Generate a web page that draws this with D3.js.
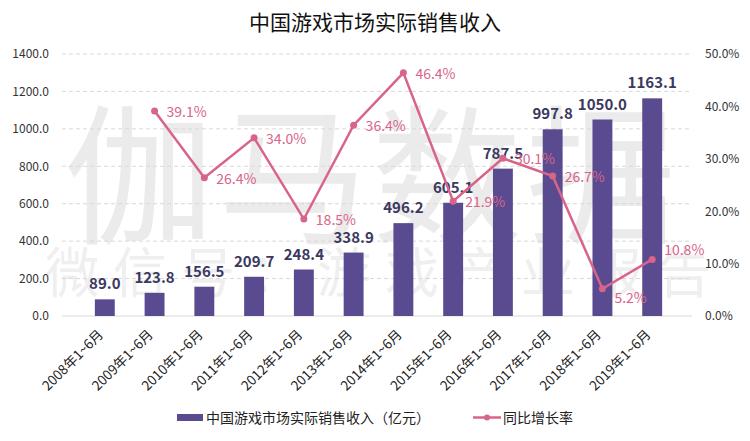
<!DOCTYPE html>
<html><head><meta charset="utf-8">
<script src="https://cdn.jsdelivr.net/npm/d3@7"></script>
<style>body{margin:0;background:#fff}svg{display:block}text{font-family:"Noto Sans CJK SC","Noto Sans",sans-serif}</style>
</head><body><svg id="c" width="750" height="441"></svg>
<script>
const categories = ["2008年1~6月","2009年1~6月","2010年1~6月","2011年1~6月","2012年1~6月","2013年1~6月","2014年1~6月","2015年1~6月","2016年1~6月","2017年1~6月","2018年1~6月","2019年1~6月"];
const revenue = [89.0,123.8,156.5,209.7,248.4,338.9,496.2,605.1,787.5,997.8,1050.0,1163.1];
const growth = [null,39.1,26.4,34.0,18.5,36.4,46.4,21.9,30.1,26.7,5.2,10.8];
const leftTicks = [0,200,400,600,800,1000,1200,1400];
const rightTicks = [0,10,20,30,40,50];
const title = "中国游戏市场实际销售收入";
const legendBar = "中国游戏市场实际销售收入（亿元）";
const legendLine = "同比增长率";

const svg = d3.select("#c");
const L = 65, R = 692, T = 54, B = 316;
const barColor = "#5a4a8f", lineColor = "#d9648a";

const x = d3.scaleBand().domain(categories).range([L, R]).padding(0.6);
const y = d3.scaleLinear().domain([0, 1400]).range([B, T]);
const y2 = d3.scaleLinear().domain([0, 50]).range([B, T]);

// watermark
svg.append("text").attr("x", 372).attr("y", 232).attr("text-anchor","middle")
  .attr("font-size", 150).attr("fill", "#ebebeb").attr("letter-spacing", 4).text("伽马数据");
svg.append("text").attr("x", 385).attr("y", 293).attr("text-anchor","middle")
  .attr("font-size", 54).attr("fill", "#efefef").attr("letter-spacing", 14).text("微信号：游戏产业报告");

// title
svg.append("text").attr("x", 375).attr("y", 30).attr("text-anchor","middle")
  .attr("font-size", 21).attr("fill", "#111").text(title);

// gridlines
svg.append("g").selectAll("line").data(leftTicks.slice(1)).join("line")
  .attr("x1", L-3).attr("x2", R).attr("y1", d=>y(d)).attr("y2", d=>y(d))
  .attr("stroke", "#d9d9d9").attr("stroke-dasharray", "4,3");
svg.append("line").attr("x1", L-3).attr("x2", R).attr("y1", B).attr("y2", B).attr("stroke", "#d9d9d9");

// left axis
const la = svg.append("g").attr("transform", `translate(${L-16},0)`)
  .call(d3.axisLeft(y).tickValues(leftTicks).tickFormat(d3.format(".1f")).tickSize(0).tickPadding(0));
la.select(".domain").remove();
la.selectAll("text").attr("font-size", 12).attr("fill", "#333").attr("font-family", '"Noto Sans","DejaVu Sans",sans-serif');

// right axis
const ra = svg.append("g").attr("transform", `translate(${R+13},0)`)
  .call(d3.axisRight(y2).tickValues(rightTicks).tickFormat(d => d.toFixed(1) + "%").tickSize(0).tickPadding(0));
ra.select(".domain").remove();
ra.selectAll("text").attr("font-size", 12).attr("fill", "#333").attr("font-family", '"Noto Sans","DejaVu Sans",sans-serif');

// bars
svg.append("g").selectAll("rect").data(revenue).join("rect")
  .attr("x", (d,i)=>x(categories[i])).attr("width", x.bandwidth())
  .attr("y", d=>y(d)).attr("height", d=>B-y(d)).attr("fill", barColor);
svg.append("g").selectAll("text").data(revenue).join("text")
  .attr("x", (d,i)=>x(categories[i])+x.bandwidth()/2).attr("y", d=>y(d)-10)
  .attr("text-anchor","middle").attr("font-size", 15).attr("font-weight","bold")
  .attr("fill", "#3b3960").attr("font-family", '"Noto Sans","DejaVu Sans",sans-serif')
  .text(d=>d.toFixed(1));

// x labels
svg.append("g").selectAll("text").data(categories).join("text")
  .attr("transform", c=>`translate(${x(c)+x.bandwidth()/2-4},${B+16}) rotate(-45)`)
  .attr("text-anchor","end").attr("dy","0.35em").attr("font-size", 13.5).attr("fill","#222").text(c=>c);

// line
const pts = growth.map((g,i)=>({g, c: categories[i]})).filter(p=>p.g!==null);
const cx = p => x(p.c)+x.bandwidth()/2;
svg.append("path").datum(pts)
  .attr("d", d3.line().x(cx).y(p=>y2(p.g)))
  .attr("fill","none").attr("stroke", lineColor).attr("stroke-width", 2.5);
svg.append("g").selectAll("circle").data(pts).join("circle")
  .attr("cx", cx).attr("cy", p=>y2(p.g)).attr("r", 3.5).attr("fill", lineColor);
svg.append("g").selectAll("text").data(pts).join("text")
  .attr("x", p=>cx(p)+12)
  .attr("y", p=>y2(p.g) + (p.g===5.2 ? 14 : p.g===10.8 ? -4 : 6))
  .attr("font-size", 14).attr("fill", lineColor).attr("font-family", '"Noto Sans","DejaVu Sans",sans-serif')
  .text(p=>p.g.toFixed(1)+"%");

// legend
const lg = svg.append("g");
lg.append("rect").attr("x", 177).attr("y", 414).attr("width", 26).attr("height", 7).attr("fill", barColor);
lg.append("text").attr("x", 206).attr("y", 423).attr("font-size", 14).attr("fill","#222").text(legendBar);
lg.append("line").attr("x1", 473).attr("x2", 501).attr("y1", 417.5).attr("y2", 417.5).attr("stroke", lineColor).attr("stroke-width", 2.5);
lg.append("circle").attr("cx", 487).attr("cy", 417.5).attr("r", 3).attr("fill", lineColor);
lg.append("text").attr("x", 503).attr("y", 423).attr("font-size", 14).attr("fill","#222").text(legendLine);
</script></body></html>
